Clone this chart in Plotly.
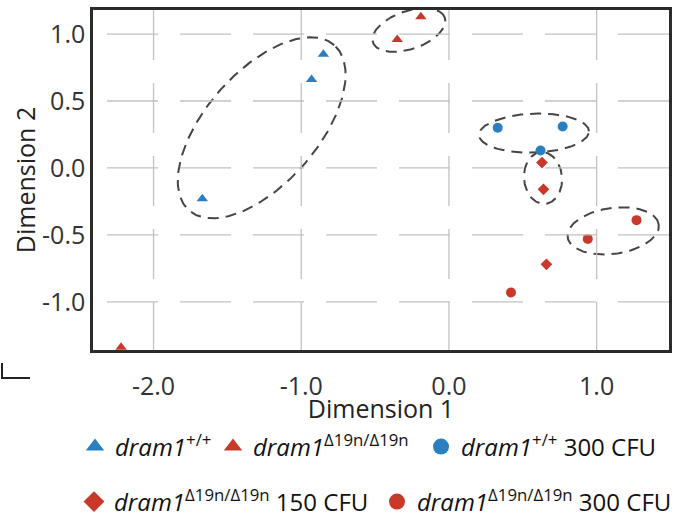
import numpy as np
import plotly.graph_objects as go

# ---------------- data ----------------
wt_x = [-1.67, -0.93, -0.85]
wt_y = [-0.23, 0.66, 0.85]
mut_x = [-2.22, -0.35, -0.19]
mut_y = [-1.34, 0.96, 1.13]
wt300_x = [0.33, 0.77, 0.62]
wt300_y = [0.30, 0.31, 0.13]
mut150_x = [0.63, 0.64, 0.66]
mut150_y = [0.04, -0.16, -0.72]
mut300_x = [0.42, 0.94, 1.27]
mut300_y = [-0.93, -0.53, -0.39]

x_tickvals = [-2, -1, 0, 1]
x_ticktext = ["-2.0", "-1.0", "0.0", "1.0"]
y_tickvals = [-1.0, -0.5, 0.0, 0.5, 1.0]
y_ticktext = ["-1.0", "-0.5", "0.0", "0.5", "1.0"]

# cluster ellipses: centre (data units), semi-axes (px), rotation (deg)
ell_cx = [-1.268, -0.271, 0.576, 0.637, 1.112]
ell_cy = [0.30, 1.03, 0.26, -0.075, -0.47]
ell_a = [110, 38, 55, 26, 46]
ell_b = [56, 19, 19.5, 19, 23]
ell_ang = [48.7, 19, 2, 95, 8]

names = [
    "<i>dram1</i><sup>+/+</sup>",
    "<i>dram1</i><sup>\u039419n/\u039419n</sup>",
    "<i>dram1</i><sup>+/+</sup> 300 CFU",
    "<i>dram1</i><sup>\u039419n/\u039419n</sup> 150 CFU",
    "<i>dram1</i><sup>\u039419n/\u039419n</sup> 300 CFU",
]

BLUE = "#2a7fc0"
RED = "#c9392b"
FONT = "Open Sans"
GRID = "#c2c2c2"

x_range = [-2.41, 1.49]
y_range = [-1.36, 1.18]
W, H = 684, 517
ML, MR, MT, MB = 93, 15, 10, 167
PW, PH = W - ML - MR, H - MT - MB
sx = PW / (x_range[1] - x_range[0])
sy = PH / (y_range[1] - y_range[0])

fig = go.Figure()

# ellipses
t = np.linspace(0, 2 * np.pi, 200)
for cx, cy, a, b, ang in zip(ell_cx, ell_cy, ell_a, ell_b, ell_ang):
    th = np.radians(ang)
    ex = cx + (a * np.cos(t) * np.cos(th) - b * np.sin(t) * np.sin(th)) / sx
    ey = cy + (a * np.cos(t) * np.sin(th) + b * np.sin(t) * np.cos(th)) / sy
    fig.add_trace(go.Scatter(x=ex, y=ey, mode="lines", showlegend=False, hoverinfo="skip",
                             line=dict(color="#454545", width=2, dash="11px,7px")))

# legend entry positions (container px): left edge, row centre
leg_left = [75, 213, 421, 74, 377]
leg_row = [447, 447, 447, 502, 502]
leg_ids = ["legend", "legend2", "legend3", "legend4", "legend5"]

series = [
    (wt_x, wt_y, "triangle-up", BLUE, 10),
    (mut_x, mut_y, "triangle-up", RED, 10),
    (wt300_x, wt300_y, "circle", BLUE, 10),
    (mut150_x, mut150_y, "diamond", RED, 9),
    (mut300_x, mut300_y, "circle", RED, 10),
]
for (xs, ys, sym, col, sz), nm, lg in zip(series, names, leg_ids):
    fig.add_trace(go.Scatter(x=xs, y=ys, mode="markers", name=nm, showlegend=False,
                             marker=dict(symbol=sym, color=col, size=sz, line=dict(width=0))))
    # legend-only entry with a larger symbol
    fig.add_trace(go.Scatter(x=[None], y=[None], mode="markers", name=nm, legend=lg,
                             marker=dict(symbol=sym, color=col, size=16, line=dict(width=0))))

shapes = []
# horizontal grid lines (drawn right-to-left so the dash pattern matches)
for yv in y_tickvals:
    shapes.append(dict(type="line", xref="paper", yref="y", x0=1, x1=0, y0=yv, y1=yv,
                       line=dict(color=GRID, width=1.3, dash="51px,22px"), layer="above"))
# vertical grid lines (drawn top-to-bottom)
for xv in x_tickvals:
    shapes.append(dict(type="line", xref="x", yref="paper", x0=xv, x1=xv, y0=1, y1=0,
                       line=dict(color=GRID, width=1.3, dash="50px,23px"), layer="above"))
# fragment of a neighbouring panel at bottom-left
def px2paper(px, py):
    return (px - ML) / PW, (MT + PH - py) / PH
p1, p2, p3 = px2paper(2, 363), px2paper(2, 378), px2paper(30, 378)
shapes.append(dict(type="path", xref="paper", yref="paper",
                   path="M %f,%f L %f,%f L %f,%f" % (p1 + p2 + p3),
                   line=dict(color="#222", width=2)))
fig.update_layout(shapes=shapes)

fig.update_xaxes(range=x_range, tickvals=x_tickvals, ticktext=x_ticktext,
                 showgrid=False, zeroline=False, showline=True, mirror=True,
                 linecolor="#2b2b2b", linewidth=2.5, automargin=True,
                 ticks="outside", ticklen=12, tickcolor="rgba(0,0,0,0)",
                 tickfont=dict(family=FONT, size=25, color="#333"),
                 title=dict(text="Dimension 1", font=dict(family=FONT, size=25, color="#222"), standoff=2))
fig.update_yaxes(range=y_range, tickvals=y_tickvals, ticktext=y_ticktext,
                 showgrid=False, zeroline=False, showline=True, mirror=True,
                 linecolor="#2b2b2b", linewidth=2.5, automargin=True,
                 ticks="", tickfont=dict(family=FONT, size=25, color="#333"),
                 title=dict(text="Dimension 2", font=dict(family=FONT, size=25, color="#222"), standoff=0))

legends = {}
for lg, lx, ly in zip(leg_ids, leg_left, leg_row):
    legends[lg] = dict(orientation="h", xref="container", yref="container",
                       xanchor="left", yanchor="middle", x=lx / W, y=1 - ly / H,
                       font=dict(family=FONT, size=24, color="#111"),
                       bgcolor="rgba(0,0,0,0)", itemwidth=30)
fig.update_layout(
    width=W, height=H,
    margin=dict(l=ML, r=MR, t=MT, b=MB, autoexpand=False),
    paper_bgcolor="white", plot_bgcolor="white",
    font=dict(family=FONT),
    **legends,
)

fig.write_html("out.html", config={"displayModeBar": False},
               post_script="document.body.style.margin='0';document.body.style.padding='0';"
                           "document.body.style.overflow='hidden';")
